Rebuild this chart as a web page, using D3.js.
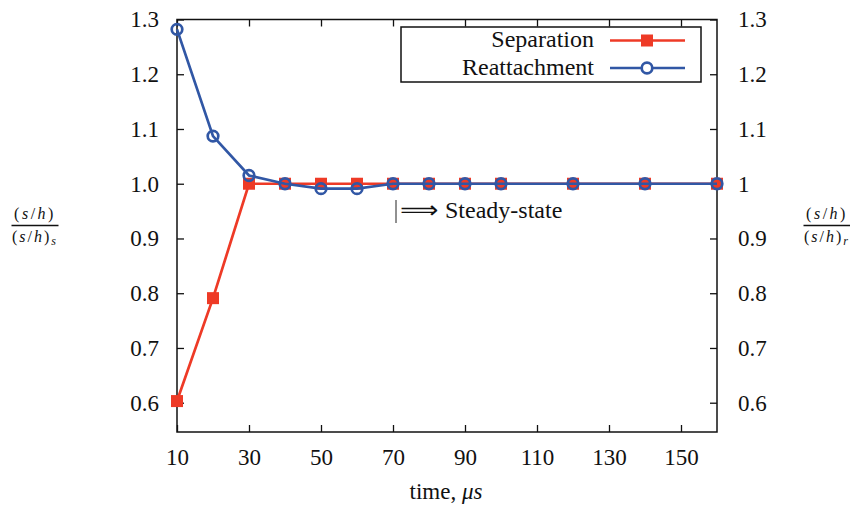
<!DOCTYPE html>
<html>
<head>
<meta charset="utf-8">
<script src="https://cdn.jsdelivr.net/npm/d3@7"></script>
<style>
  body { margin: 0; background: #fff; }
  svg { display: block; }
</style>
</head>
<body>
<svg id="chart" width="850" height="511"></svg>
<script>
// Time (µs) and normalised bubble positions
const times = [10, 20, 30, 40, 50, 60, 70, 80, 90, 100, 120, 140, 160];
const separation = [0.603, 0.791, 1.0, 1.0, 1.0, 1.0, 1.0, 1.0, 1.0, 1.0, 1.0, 1.0, 1.0];
const reattachment = [1.282, 1.087, 1.015, 1.0, 0.991, 0.991, 1.0, 1.0, 1.0, 1.0, 1.0, 1.0, 1.0];
const xTicks = [10, 30, 50, 70, 90, 110, 130, 150];
const yTicks = [0.6, 0.7, 0.8, 0.9, 1.0, 1.1, 1.2, 1.3];
const yTickLabelsLeft = ["0.6", "0.7", "0.8", "0.9", "1.0", "1.1", "1.2", "1.3"];
const yTickLabelsRight = ["0.6", "0.7", "0.8", "0.9", "1", "1.1", "1.2", "1.3"];
const seriesNames = ["Separation", "Reattachment"];

const RED = "#ee3a26", BLUE = "#3157a5";
const FONT = '"Liberation Serif", "Times New Roman", serif';

const svg = d3.select("#chart");
const L = 177, R = 717, T = 19.5, B = 432;

const x = d3.scaleLinear().domain([10, 160]).range([L, R]);
const y = d3.scaleLinear().domain([0.5465, 1.3]).range([B, T]);

const tickLen = 7;
const tickFont = 23;
const textFont = 24;

// Axes with inward ticks on all four sides
const axB = svg.append("g").attr("transform", `translate(0,${B})`)
  .call(d3.axisBottom(x).tickValues(xTicks).tickSize(-tickLen).tickPadding(17).tickFormat(d3.format("d")));
const axT = svg.append("g").attr("transform", `translate(0,${T})`)
  .call(d3.axisTop(x).tickValues(xTicks).tickSize(-tickLen).tickFormat(""));
const axL = svg.append("g").attr("transform", `translate(${L},0)`)
  .call(d3.axisLeft(y).tickValues(yTicks).tickSize(-tickLen).tickPadding(18)
    .tickFormat((d, i) => yTickLabelsLeft[i]));
const axR = svg.append("g").attr("transform", `translate(${R},0)`)
  .call(d3.axisRight(y).tickValues(yTicks).tickSize(-tickLen).tickPadding(21)
    .tickFormat((d, i) => yTickLabelsRight[i]));

[axB, axT, axL, axR].forEach(g => {
  g.select(".domain").remove();
  g.selectAll(".tick line").attr("stroke", "#111").attr("stroke-width", 1.3);
  g.selectAll(".tick text").attr("font-size", tickFont).attr("fill", "#111");
});

// Frame
svg.append("rect").attr("x", L).attr("y", T).attr("width", R - L).attr("height", B - T)
  .attr("fill", "none").attr("stroke", "#111").attr("stroke-width", 1.5);

// Lines and markers
const line = d3.line().x(d => x(d[0])).y(d => y(d[1]));
const sepData = times.map((t, i) => [t, separation[i]]);
const reaData = times.map((t, i) => [t, reattachment[i]]);
const sq = 12, cr = 5.3, lw = 2.7;

svg.append("path").datum(sepData).attr("d", line)
  .attr("fill", "none").attr("stroke", RED).attr("stroke-width", lw);
svg.append("g").selectAll("rect").data(sepData).join("rect")
  .attr("x", d => x(d[0]) - sq / 2).attr("y", d => y(d[1]) - sq / 2)
  .attr("width", sq).attr("height", sq).attr("fill", RED);

svg.append("path").datum(reaData).attr("d", line)
  .attr("fill", "none").attr("stroke", BLUE).attr("stroke-width", lw);
svg.append("g").selectAll("circle").data(reaData).join("circle")
  .attr("cx", d => x(d[0])).attr("cy", d => y(d[1])).attr("r", cr)
  .attr("fill", "none").attr("stroke", BLUE).attr("stroke-width", lw);

// Legend
const lg = svg.append("g");
lg.append("rect").attr("x", 401).attr("y", 27).attr("width", 300).attr("height", 55)
  .attr("fill", "#fff").attr("stroke", "#111").attr("stroke-width", 1.5);
const rows = [40.5, 68];
seriesNames.forEach((name, i) => {
  const ry = rows[i];
  lg.append("text").attr("x", 594).attr("y", ry + 6.5).attr("text-anchor", "end")
    .attr("font-size", textFont).text(name);
  lg.append("line").attr("x1", 610).attr("x2", 685).attr("y1", ry).attr("y2", ry)
    .attr("stroke", i === 0 ? RED : BLUE).attr("stroke-width", lw);
  if (i === 0) {
    lg.append("rect").attr("x", 647 - sq / 2).attr("y", ry - sq / 2)
      .attr("width", sq).attr("height", sq).attr("fill", RED);
  } else {
    lg.append("circle").attr("cx", 647).attr("cy", ry).attr("r", cr)
      .attr("fill", "#fff").attr("stroke", BLUE).attr("stroke-width", lw);
  }
});

// Steady-state annotation: bar, double arrow, label
const ann = svg.append("g");
ann.append("line").attr("x1", 396).attr("x2", 396).attr("y1", 200).attr("y2", 223)
  .attr("stroke", "#222").attr("stroke-width", 1);
ann.append("text").attr("x", 400).attr("y", 218).attr("font-size", 24)
  .attr("textLength", 38).attr("lengthAdjust", "spacingAndGlyphs").text("\u27F9");
ann.append("text").attr("x", 445).attr("y", 218).attr("font-size", textFont).text("Steady-state");

// X axis title
const xt = svg.append("text").attr("x", 446).attr("y", 499).attr("text-anchor", "middle")
  .attr("font-size", tickFont);
xt.append("tspan").text("time, ");
xt.append("tspan").attr("font-style", "italic").text("\u03BCs");

// Fraction labels for both y axes
function fraction(cx, sub) {
  const g = svg.append("g");
  const fs = 16;
  const parts = t => {
    t.append("tspan").text("(");
    t.append("tspan").attr("font-style", "italic").text("s");
    t.append("tspan").text("/");
    t.append("tspan").attr("font-style", "italic").text("h");
    t.append("tspan").text(")");
  };
  const num = g.append("text").attr("x", cx).attr("y", 219).attr("text-anchor", "middle")
    .attr("font-size", fs).attr("letter-spacing", 2.5);
  parts(num);
  g.append("line").attr("x1", cx - 23.5).attr("x2", cx + 23.5).attr("y1", 225.5).attr("y2", 225.5)
    .attr("stroke", "#111").attr("stroke-width", 1.4);
  const den = g.append("text").attr("x", cx).attr("y", 242).attr("text-anchor", "middle")
    .attr("font-size", fs).attr("letter-spacing", 2);
  parts(den);
  den.append("tspan").attr("font-style", "italic").attr("font-size", 12).attr("dy", 3).text(sub);
}
fraction(35, "s");
fraction(827, "r");

// Serif face and ink colour for every label
svg.selectAll("text").style("font-family", FONT).attr("fill", "#111");
</script>
</body>
</html>
